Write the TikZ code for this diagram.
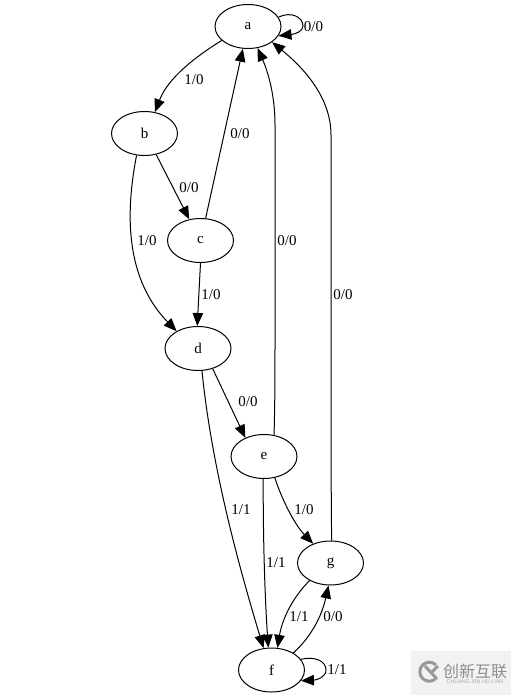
\documentclass[tikz,border=0pt]{standalone}
\usepackage{fontspec}
\setmainfont{Liberation Serif}
\newfontfamily\cjkwm{Noto Sans CJK SC}
\newfontfamily\wmlatin{Liberation Sans}
\usetikzlibrary{shapes.geometric,arrows.meta}
\tikzset{
  state/.style={draw,ellipse,inner sep=0pt,minimum width=66pt,minimum height=44pt,line width=1pt,font=\fontsize{15}{16}\selectfont},
  lab/.style={inner sep=0pt,font=\fontsize{15}{16}\selectfont},
  edge/.style={draw,line width=1pt,-{Triangle[length=13pt,width=10.5pt]}}
}
\begin{document}
\begin{tikzpicture}[x=1pt,y=-1pt]
\useasboundingbox (0,0) rectangle (511,695);
\fill[white] (0,0) rectangle (511,695);
\node[state] (a) at (248,26.5) {a};
\node[state] (b) at (144.5,133.5) {b};
\node[state] (c) at (200.5,240.5) {c};
\node[state] (d) at (198,348.5) {d};
\node[state] (e) at (264,456.5) {e};
\node[state] (f) at (271.5,670) {f};
\node[state] (g) at (330.5,563) {g};
\path[edge] (a.17) .. controls (291,11) and (303,17) .. (303,26) .. controls (303,31) and (296,34) .. (a.343);
\path[edge] (a.208) .. controls (195,57) and (168,78) .. (b.64);
\path[edge] (c.77) -- (a.257);
\path[edge] (b.299) -- (c.118);
\path[edge] (b.250) .. controls (127,205) and (122,275) .. (d.141);
\path[edge] (c.270) -- (d.92);
\path[edge] (d.306) -- (e.135);
\path[edge] (e.65) .. controls (275,405) and (275,370) .. (275,330) -- (275,125) .. controls (275,95) and (268,72) .. (a.294);
\path[edge] (g.87) .. controls (331,500) and (331,400) .. (331,300) -- (331,135) .. controls (331,95) and (300,65) .. (a.327);
\path[edge] (d.280) .. controls (212,470) and (240,570) .. (f.110);
\path[edge] (e.268) .. controls (263,540) and (265,600) .. (f.98);
\path[edge] (e.297) .. controls (282,500) and (295,525) .. (g.132);
\path[edge] (g.220) .. controls (292,598) and (282,620) .. (f.75);
\path[edge] (f.38) .. controls (312,636) and (322,615) .. (g.265);
\path[edge] (f.20) .. controls (315,656) and (326,661) .. (326,670) .. controls (326,677) and (317,680) .. (f.340);
\node[lab] (l1) at (313.5,26.5) {0/0};
\node[lab] (l2) at (194,80) {1/0};
\node[lab] (l3) at (240,133.5) {0/0};
\node[lab] (l4) at (189,188) {0/0};
\node[lab] (l5) at (147,241) {1/0};
\node[lab] (l6) at (211,294.5) {1/0};
\node[lab] (l7) at (287,241) {0/0};
\node[lab] (l8) at (343,295) {0/0};
\node[lab] (l9) at (248,401.5) {0/0};
\node[lab] (l10) at (241,510) {1/1};
\node[lab] (l11) at (276,563) {1/1};
\node[lab] (l12) at (304,510) {1/0};
\node[lab] (l13) at (299,617) {1/1};
\node[lab] (l14) at (333,617) {0/0};
\node[lab] (l15) at (337,670) {1/1};
\fill[black!5] (411,651) rectangle (511,695);
\draw[black!40,line width=3pt] (436,665) arc (45:315:9.5pt);
\draw[black!40,line width=3pt] (425,666) -- (437,679);
\draw[black!40,line width=3pt] (432,672) -- (438,666);
\node[inner sep=0pt,text=black!45,font=\cjkwm\fontsize{16}{17}\selectfont] (wm1) at (475,671) {创新互联};
\node[inner sep=0pt,text=black!35,font=\wmlatin\fontsize{5.4}{6}\selectfont] (wm2) at (475,682) {CHUANG XIN HU LIAN};
\end{tikzpicture}
\end{document}
